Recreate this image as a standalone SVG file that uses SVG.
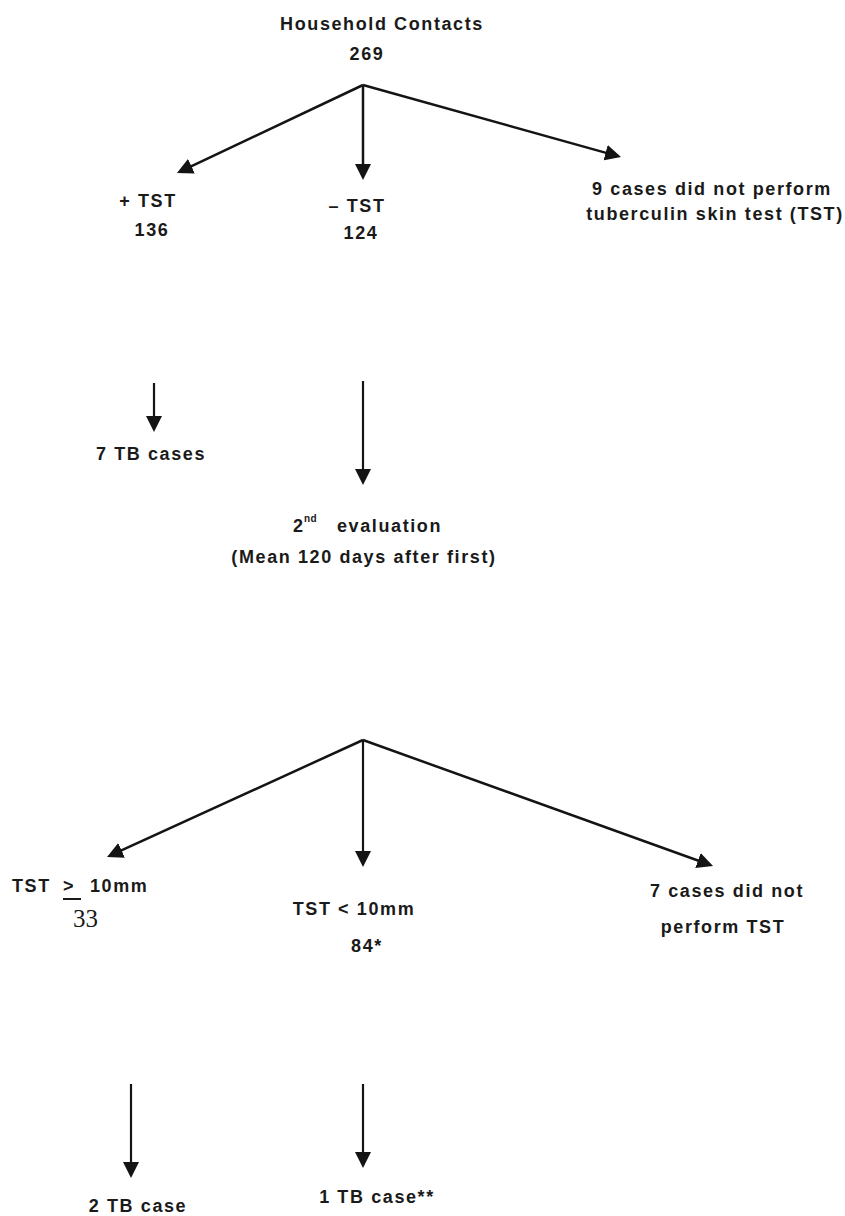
<svg xmlns="http://www.w3.org/2000/svg" width="845" height="1216" viewBox="0 0 845 1216">
<style>
.t{font-family:"Liberation Sans",Arial,sans-serif;font-weight:bold;font-size:18px;letter-spacing:1.6px;fill:#1a1a1a;text-anchor:middle}
.s{text-anchor:start}
.sup{font-size:10px;letter-spacing:0.5px}
.serif{font-family:"Liberation Serif","Times New Roman",serif;font-weight:normal;font-size:25px;letter-spacing:0;fill:#1a1a1a}
.c{stroke:#141414;stroke-width:2.5;fill:none;marker-end:url(#ah)}
.v{stroke-width:2.2}
</style>
<defs>
<marker id="ah" viewBox="0 0 16 16" refX="8" refY="8" markerWidth="16" markerHeight="16" markerUnits="userSpaceOnUse" orient="auto">
<path d="M0,0 L16,8 L0,16 z" fill="#141414"/>
</marker>
</defs>
<rect width="845" height="1216" fill="#ffffff"/>
<g id="connectors">
<line class="c" x1="363" y1="85" x2="184.2" y2="169.6"/>
<line class="c" x1="363" y1="85" x2="363" y2="172"/>
<line class="c" x1="363" y1="85" x2="613.3" y2="154.9"/>
<line class="c v" x1="154" y1="383" x2="154" y2="424"/>
<line class="c v" x1="363" y1="381" x2="363" y2="477"/>
<line class="c" x1="363" y1="740" x2="114.3" y2="853.7"/>
<line class="c v" x1="363" y1="740" x2="363" y2="859"/>
<line class="c" x1="363" y1="740" x2="705.5" y2="863.3"/>
<line class="c v" x1="131" y1="1084" x2="131" y2="1170"/>
<line class="c v" x1="363" y1="1084" x2="363" y2="1160"/>
</g>
<g id="household">
<text class="t" x="382" y="30">Household Contacts</text>
<text class="t" x="367" y="60">269</text>
</g>
<g id="pos-tst">
<text class="t" x="148" y="207">+ TST</text>
<text class="t" x="152" y="236">136</text>
</g>
<g id="neg-tst">
<text class="t" x="357" y="212">– TST</text>
<text class="t" x="361" y="239">124</text>
</g>
<g id="no-tst-1">
<text class="t" x="712" y="195">9 cases did not perform</text>
<text class="t" x="715" y="220">tuberculin skin test (TST)</text>
</g>
<g id="tb-7">
<text class="t" x="151" y="460">7 TB cases</text>
</g>
<g id="second-eval">
<text class="t s" x="293" y="532">2<tspan class="sup" x="304" y="522">nd</tspan><tspan x="337" y="532">evaluation</tspan></text>
<text class="t" x="364" y="563">(Mean 120 days after first)</text>
</g>
<g id="tst-ge10">
<text class="t s" x="12" y="892">TST<tspan x="63">&gt;</tspan><tspan x="90">10mm</tspan></text>
<line x1="63" y1="899" x2="81" y2="899" stroke="#1a1a1a" stroke-width="2"/>
<text class="serif" x="73" y="927">33</text>
</g>
<g id="tst-lt10">
<text class="t" x="354" y="915">TST &lt; 10mm</text>
<text class="t" x="367" y="952">84*</text>
</g>
<g id="no-tst-2">
<text class="t" x="727" y="897">7 cases did not</text>
<text class="t" x="723" y="933">perform TST</text>
</g>
<g id="tb-2">
<text class="t" x="138" y="1212">2 TB case</text>
</g>
<g id="tb-1">
<text class="t" x="377" y="1203">1 TB case**</text>
</g>
</svg>
